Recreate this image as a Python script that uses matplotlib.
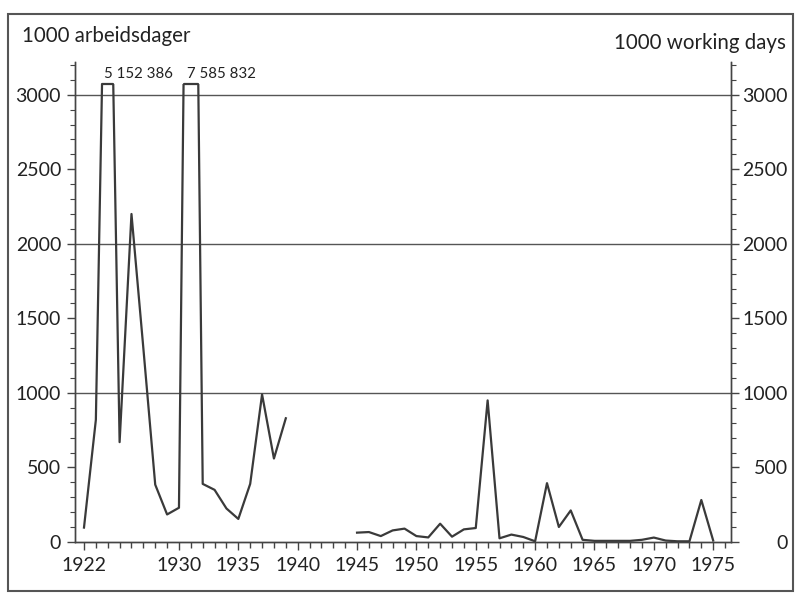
import numpy as np
import matplotlib.pyplot as plt
from matplotlib.patches import Rectangle
from matplotlib.ticker import MultipleLocator

# Arbeidsdager tapt ved arbeidskonflikter, 1000 dager
years = list(range(1922, 1976))
days_prewar = [97, 820, 5152, 670, 2200, 1300, 385, 185, 230, 7586,
               390, 350, 225, 155, 390, 990, 560, 830]
days_war = [np.nan] * 5  # 1940-1944
days_postwar = [63, 67, 40, 78, 90, 40, 31, 123, 36, 85,
                94, 950, 25, 50, 34, 5, 395, 101, 212, 15,
                8, 8, 8, 8, 15, 30, 10, 5, 5, 282, 10]
days = np.array(days_prewar + days_war + days_postwar, dtype=float)

peak_labels = {1924: "5 152 386", 1931: "7 585 832"}
cap = 3070
grid_levels = [1000, 2000, 3000]
year_labels = [1922, 1930, 1935, 1940, 1945, 1950, 1955, 1960, 1965, 1970, 1975]

plt.rcParams['font.family'] = ['Lato', 'DejaVu Sans']
ink = '#3a3a3a'

fig = plt.figure(figsize=(7.95, 5.95), dpi=100)
ax = fig.add_axes([0.0943, 0.089, 0.8252, 0.807])
ax2 = ax.twinx()

for lvl in grid_levels:
  ax.axhline(lvl, color='#555555', lw=1.0, zorder=1)

line, = ax.plot(years, days, color=ink, lw=1.6, zorder=3, solid_joinstyle='round')
line.set_clip_path(Rectangle((1900, -500), 100, cap + 500, transform=ax.transData))

# flat top where the big years go off the scale
yrs = np.array(years)
for yr, txt in peak_labels.items():
  i = years.index(yr)
  xl = yrs[i - 1] + (cap - days[i - 1]) / (days[i] - days[i - 1])
  xr = yrs[i] + (days[i] - cap) / (days[i] - days[i + 1])
  ax.plot([xl, xr], [cap, cap], color=ink, lw=1.6, zorder=3, solid_capstyle='round')
  ax.text(yr - 0.3, 3115, txt, fontsize=10.8, color='#222222', ha='left', va='baseline')

ax.set_xlim(1921.24, 1976.5)
ax.set_ylim(0, 3220)
ax2.set_ylim(0, 3220)

for a in (ax, ax2):
  a.spines['top'].set_visible(False)
  for s in a.spines.values():
    s.set_color('#444444')
    s.set_linewidth(1.0)
  a.yaxis.set_major_locator(MultipleLocator(500))
  a.yaxis.set_minor_locator(MultipleLocator(100))

ax.set_xticks(year_labels)
ax.set_xticklabels([str(y) for y in year_labels])
ax.xaxis.set_minor_locator(MultipleLocator(1))
ax.tick_params(axis='x', which='major', direction='out', length=6, width=1, color='#444444',
               labelsize=14, pad=5, labelcolor='#222222')
ax.tick_params(axis='x', which='minor', direction='out', length=4, width=1, color='#444444')
ax.tick_params(axis='y', which='major', direction='out', length=6, width=1, color='#444444',
               labelsize=14, pad=4, labelcolor='#222222')
ax.tick_params(axis='y', which='minor', direction='out', length=3.5, width=0.8, color='#444444')

ax2.tick_params(axis='y', which='major', direction='out', length=6, width=1, color='#444444',
                labelsize=14, pad=35, labelcolor='#222222')
ax2.tick_params(axis='y', which='minor', direction='out', length=3.5, width=0.8, color='#444444')
for t in ax2.get_yticklabels():
  t.set_horizontalalignment('right')

fig.text(22 / 795, 1 - 36 / 595, "1000 arbeidsdager", fontsize=14.8, color='#222222', va='center', ha='left')
fig.text(786 / 795, 1 - 43 / 595, "1000 working days", fontsize=14.8, color='#222222', va='center', ha='right')

# frame round the whole figure
fig.patches.append(Rectangle((8 / 795, 4 / 595), 785 / 795, 577 / 595, transform=fig.transFigure,
                             fill=False, edgecolor='#555555', lw=1.5))

fig.savefig('out.png', dpi=100)
